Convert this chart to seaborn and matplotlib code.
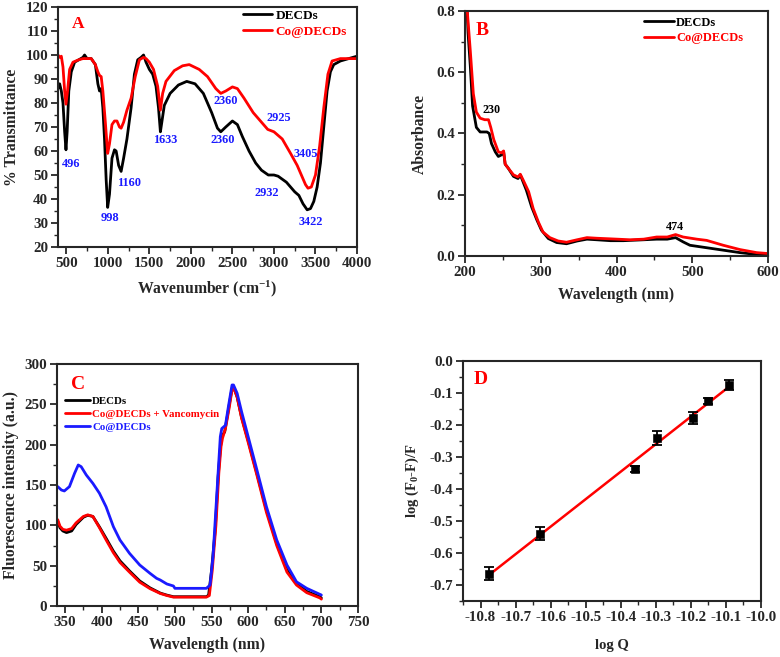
import numpy as np
import pandas as pd
import matplotlib
matplotlib.use("Agg")
import matplotlib.pyplot as plt
from matplotlib.ticker import MultipleLocator, FormatStrFormatter
import seaborn as sns

# ---------------- Panel A: FTIR ----------------
ftir_wn_decds = [400, 420, 440, 460, 480, 496, 510, 530, 560, 600, 650, 700, 720, 750, 800, 850, 880, 900, 920, 940, 960, 980, 998, 1020, 1050, 1080, 1100, 1130, 1160, 1190, 1230, 1280, 1320, 1360, 1400, 1430, 1460, 1500, 1540, 1580, 1610, 1633, 1650, 1680, 1750, 1850, 1950, 2050, 2150, 2250, 2320, 2360, 2420, 2500, 2560, 2620, 2700, 2780, 2850, 2932, 3000, 3050, 3150, 3250, 3300, 3350, 3400, 3440, 3480, 3520, 3560, 3600, 3640, 3680, 3720, 3800, 3900, 4000]
ftir_t_decds = [86, 88, 85, 80, 68, 60.5, 68, 85, 93, 97, 98, 99, 100, 98.5, 98.5, 96, 88, 85, 86, 78, 65, 48, 36.5, 42, 57, 60.5, 60, 54, 51.5, 57, 65, 78, 92, 98, 99, 100, 97, 94, 92, 87, 78, 68, 72, 79, 84, 87.5, 89, 88, 84, 76, 69.5, 68, 70, 72.5, 71, 66, 60, 55, 52, 50, 50, 49.5, 47, 43, 41.5, 38, 35.5, 36, 39, 45, 55, 70, 85, 93, 96, 97.5, 98.5, 99.5]
ftir_wn_co = [400, 420, 440, 460, 480, 496, 515, 540, 580, 650, 700, 750, 800, 850, 880, 900, 920, 940, 970, 998, 1020, 1050, 1080, 1110, 1140, 1160, 1190, 1230, 1280, 1330, 1380, 1430, 1460, 1500, 1550, 1600, 1633, 1660, 1700, 1800, 1900, 1980, 2100, 2200, 2300, 2360, 2420, 2500, 2560, 2640, 2750, 2850, 2925, 3000, 3100, 3200, 3280, 3330, 3380, 3410, 3450, 3500, 3550, 3600, 3650, 3700, 3800, 3900, 4000]
ftir_t_co = [100, 99, 99.5, 95, 85, 79.5, 85, 94, 97, 98, 98.5, 98.5, 98.5, 96, 93, 91.5, 91, 85, 72, 59, 63, 71, 72.5, 72.5, 70, 69.5, 72, 77, 82, 91, 98, 99, 98.5, 97, 94, 87, 77, 84, 89, 93.5, 95.5, 96, 94, 91, 86, 84, 85, 86.7, 86, 82, 76, 72, 69, 68, 65, 59, 54, 50, 46, 44.5, 45, 50, 62, 78, 92, 97.5, 98.5, 98.5, 98.5]
ftir_peak_labels = ["496", "998", "1160", "1633", "2360", "2360", "2925", "2932", "3405", "3422"]
ftir_peak_x = [560, 1029, 1261, 1689, 2382, 2414, 3063, 2911, 3380, 3440]
ftir_peak_y = [54.7, 32.2, 46.8, 64.4, 64.4, 80.7, 73.9, 42.5, 58.6, 30.4]

# ---------------- Panel B: UV-Vis ----------------
uv_wl_decds = [201, 204, 207, 210, 215, 220, 229, 232, 235, 240, 244, 248, 251, 253, 257, 264, 270, 273, 277, 281, 288, 295, 301, 310, 321, 334, 348, 361, 374, 392, 409, 436, 453, 467, 478, 488, 497, 519, 541, 563, 585, 600]
uv_abs_decds = [0.92, 0.73, 0.62, 0.49, 0.42, 0.405, 0.405, 0.40, 0.367, 0.34, 0.325, 0.33, 0.34, 0.30, 0.287, 0.26, 0.253, 0.265, 0.24, 0.215, 0.16, 0.117, 0.084, 0.057, 0.044, 0.04, 0.049, 0.055, 0.053, 0.05, 0.05, 0.053, 0.055, 0.055, 0.06, 0.046, 0.035, 0.027, 0.019, 0.011, 0.005, 0.003]
uv_wl_co = [201, 203, 207, 211, 215, 220, 226, 231, 234, 238, 244, 248, 251, 253, 257, 264, 270, 273, 277, 284, 290, 297, 303, 312, 323, 334, 348, 361, 374, 392, 418, 436, 453, 467, 478, 488, 506, 519, 541, 563, 585, 600]
uv_abs_co = [0.95, 0.80, 0.67, 0.53, 0.47, 0.45, 0.445, 0.445, 0.42, 0.38, 0.34, 0.337, 0.343, 0.30, 0.287, 0.265, 0.258, 0.267, 0.247, 0.21, 0.155, 0.11, 0.078, 0.06, 0.049, 0.045, 0.053, 0.06, 0.058, 0.056, 0.053, 0.055, 0.062, 0.062, 0.07, 0.062, 0.055, 0.051, 0.035, 0.021, 0.011, 0.008]

# ---------------- Panel C: Fluorescence ----------------
fl_wl_decds = [340, 343, 347, 352, 359, 365, 375, 381, 388, 397, 406, 416, 425, 438, 452, 466, 480, 489, 498, 543, 546, 550, 555, 559, 562, 564, 568, 573, 578, 580, 585, 591, 600, 612, 625, 639, 653, 666, 680, 698, 700]
fl_int_decds = [105, 97, 93, 91, 93, 101, 110, 112.5, 111, 98, 84, 68, 56, 43.5, 31, 22.5, 16, 13.5, 11.5, 11.5, 13.5, 44, 94, 160, 195, 210, 216, 243, 270, 272, 259, 234, 205, 164, 119, 77.5, 44.5, 28, 18, 11.5, 10]
fl_wl_vanc = [340, 343, 347, 352, 359, 365, 375, 381, 388, 397, 406, 416, 425, 438, 452, 466, 480, 489, 498, 543, 547, 551, 556, 560, 563, 565, 569, 574, 578, 580, 585, 591, 600, 612, 625, 639, 653, 666, 680, 698, 700]
fl_int_vanc = [107, 99, 95, 94, 96, 103, 111, 113, 111, 97, 82, 66, 54, 42, 29.5, 21.5, 15.5, 13, 11, 11, 13, 44, 100, 165, 198, 208, 220, 245, 268, 271, 259, 233, 203, 162, 116, 75, 42, 26, 16.5, 10, 8.5]
fl_wl_co = [340, 345, 349, 356, 363, 368, 372, 379, 388, 397, 406, 416, 425, 438, 452, 466, 475, 480, 489, 498, 500, 543, 548, 552, 557, 562, 564, 569, 573, 578, 580, 585, 591, 600, 612, 625, 639, 653, 666, 680, 700]
fl_int_co = [148, 143.8, 142.6, 148, 164.5, 174.8, 172.7, 162.4, 152, 139.7, 123, 98.3, 81.8, 65.3, 50.8, 40.5, 34.3, 32.2, 27.3, 24.8, 21.9, 21.9, 26, 61, 135.5, 210, 220, 224, 247, 274, 274, 263.6, 241, 210, 168.6, 123, 82, 50.8, 30, 21.9, 13.6]

# ---------------- Panel D: binding plot ----------------
logQ = [-10.775, -10.630, -10.360, -10.298, -10.195, -10.150, -10.090]
logF = [-0.665, -0.540, -0.338, -0.240, -0.178, -0.125, -0.075]
logF_err = [0.020, 0.020, 0.010, 0.022, 0.020, 0.010, 0.015]

# ---------------- Styling ----------------
sns.set_style("ticks")
plt.rcParams['font.family'] = ['Liberation Serif', 'DejaVu Serif']
plt.rcParams['font.weight'] = 'bold'
plt.rcParams['axes.labelweight'] = 'bold'
plt.rcParams['axes.linewidth'] = 1.5
plt.rcParams['axes.unicode_minus'] = False
plt.rcParams['mathtext.fontset'] = 'custom'
plt.rcParams['mathtext.rm'] = 'Liberation Serif:bold'
plt.rcParams['mathtext.bf'] = 'Liberation Serif:bold'
plt.rcParams['mathtext.it'] = 'Liberation Serif:bold:italic'
plt.rcParams['mathtext.default'] = 'bf'

BLUE = '#1a1aff'
RED = '#ff0000'
TICK_FS = 10.8
LABEL_FS = 11.3

fig = plt.figure(figsize=(7.8, 6.57), dpi=100)
axA = fig.add_axes([58/780, (657-247)/657, 299/780, 240/657])
axB = fig.add_axes([465/780, (657-256)/657, 303/780, 245/657])
axC = fig.add_axes([57/780, (657-606)/657, 301/780, 242/657])
axD = fig.add_axes([463/780, (657-601)/657, 298/780, 240/657])


def style(ax, xmaj, xmin, ymaj, ymin):
    ax.xaxis.set_major_locator(MultipleLocator(xmaj))
    ax.xaxis.set_minor_locator(MultipleLocator(xmin))
    ax.yaxis.set_major_locator(MultipleLocator(ymaj))
    ax.yaxis.set_minor_locator(MultipleLocator(ymin))
    ax.tick_params(which='major', direction='out', length=5, width=1.3, labelsize=TICK_FS, pad=2)
    ax.tick_params(which='minor', direction='out', length=3, width=1.0)
    for lab in ax.get_xticklabels() + ax.get_yticklabels():
        lab.set_fontweight('bold')
    for s in ax.spines.values():
        s.set_visible(True)
        s.set_linewidth(1.5)


# Panel A
sns.lineplot(x=ftir_wn_decds, y=ftir_t_decds, ax=axA, color='black', lw=2, label='DECDs')
sns.lineplot(x=ftir_wn_co, y=ftir_t_co, ax=axA, color=RED, lw=2, label='Co@DECDs')
axA.set_xlim(400, 4000)
axA.set_ylim(20, 120)
style(axA, 500, 250, 10, 5)
axA.set_xlabel('Wavenumber (cm$^{-1}$)', fontsize=LABEL_FS, labelpad=6)
axA.set_ylabel('% Transmittance', fontsize=LABEL_FS, labelpad=4)
for lab, x, y in zip(ftir_peak_labels, ftir_peak_x, ftir_peak_y):
    axA.text(x, y, lab, color=BLUE, fontsize=8.8, fontweight='bold', ha='center', va='center')
axA.text(0.045, 0.93, 'A', transform=axA.transAxes, color=RED, fontsize=12.5, fontweight='bold', va='center')
axA.legend(loc='upper right', bbox_to_anchor=(0.983, 1.012), frameon=False,
           handlelength=2.2, handletextpad=0.25, labelspacing=0.3, borderaxespad=0,
           labelcolor='linecolor', prop={'weight': 'bold', 'size': 9.5})

# Panel B
sns.lineplot(x=uv_wl_decds, y=uv_abs_decds, ax=axB, color='black', lw=2, label='DECDs')
sns.lineplot(x=uv_wl_co, y=uv_abs_co, ax=axB, color=RED, lw=2, label='Co@DECDs')
axB.set_xlim(200, 600)
axB.set_ylim(0, 0.8)
style(axB, 100, 50, 0.2, 0.1)
axB.yaxis.set_major_formatter(FormatStrFormatter('%.1f'))
axB.set_xlabel('Wavelength (nm)', fontsize=LABEL_FS, labelpad=6)
axB.set_ylabel('Absorbance', fontsize=LABEL_FS, labelpad=6)
axB.text(235, 0.476, '230', color='black', fontsize=8.7, fontweight='bold', ha='center', va='center')
axB.text(477.5, 0.095, '474', color='black', fontsize=8.7, fontweight='bold', ha='center', va='center')
axB.text(0.035, 0.92, 'B', transform=axB.transAxes, color=RED, fontsize=14, fontweight='bold', va='center')
axB.legend(loc='upper right', bbox_to_anchor=(0.934, 0.997), frameon=False,
           handlelength=2.4, handletextpad=0.18, labelspacing=0.3, borderaxespad=0,
           labelcolor='linecolor', prop={'weight': 'bold', 'size': 9})

# Panel C
sns.lineplot(x=fl_wl_decds, y=fl_int_decds, ax=axC, color='black', lw=2, label='DECDs')
sns.lineplot(x=fl_wl_vanc, y=fl_int_vanc, ax=axC, color=RED, lw=2, label='Co@DECDs + Vancomycin')
sns.lineplot(x=fl_wl_co, y=fl_int_co, ax=axC, color=BLUE, lw=2, label='Co@DECDs')
axC.set_xlim(339, 750)
axC.set_ylim(0, 300)
style(axC, 50, 25, 50, 25)
axC.set_xlabel('Wavelength (nm)', fontsize=LABEL_FS, labelpad=6)
axC.set_ylabel('Fluorescence intensity (a.u.)', fontsize=LABEL_FS, labelpad=4)
axC.text(0.045, 0.915, 'C', transform=axC.transAxes, color=RED, fontsize=14, fontweight='bold', va='center')
axC.legend(loc='upper left', bbox_to_anchor=(0.012, 0.884), frameon=False,
           handlelength=2.3, handletextpad=0.2, labelspacing=0.3, borderaxespad=0,
           labelcolor='linecolor', prop={'weight': 'bold', 'size': 7.8})

# Panel D
dfD = pd.DataFrame({'logQ': logQ, 'logF': logF, 'err': logF_err})
axD.errorbar(dfD['logQ'], dfD['logF'], yerr=dfD['err'], fmt='none', ecolor='black',
             elinewidth=1.3, capsize=3.5, capthick=1.3, zorder=2)
sns.scatterplot(data=dfD, x='logQ', y='logF', ax=axD, marker='s', color='black', s=30,
                edgecolor='black', zorder=3)
sns.regplot(data=dfD, x='logQ', y='logF', ax=axD, scatter=False, ci=None,
            line_kws={'color': RED, 'lw': 1.8, 'zorder': 1})
axD.set_xlim(-10.85, -10.0)
axD.set_ylim(-0.75, 0.0)
style(axD, 0.1, 0.05, 0.1, 0.05)
axD.yaxis.set_major_formatter(FormatStrFormatter('%.1f'))
axD.xaxis.set_major_formatter(FormatStrFormatter('%.1f'))
axD.set_xlabel('log Q', fontsize=10.5, labelpad=11)
axD.set_ylabel('log (F$_0$-F)/F', fontsize=10.5, labelpad=6)
axD.text(0.035, 0.925, 'D', transform=axD.transAxes, color=RED, fontsize=14, fontweight='bold', va='center')

fig.savefig('out.png', dpi=100)
